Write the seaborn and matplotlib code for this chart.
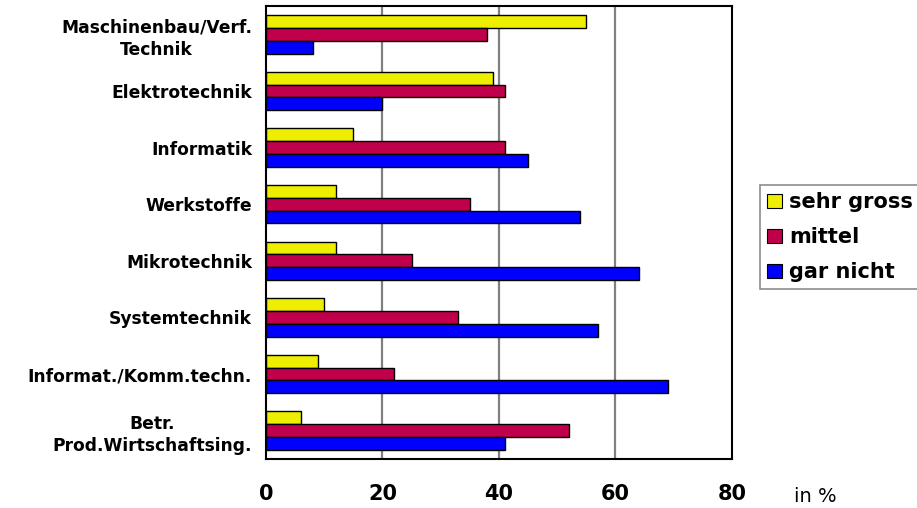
import matplotlib
matplotlib.use("Agg")
import matplotlib.pyplot as plt
from matplotlib.patches import Patch
import seaborn as sns
import pandas as pd

# Fachrichtungen (top to bottom)
categories = [
    "Maschinenbau/Verf.\nTechnik",
    "Elektrotechnik",
    "Informatik",
    "Werkstoffe",
    "Mikrotechnik",
    "Systemtechnik",
    "Informat./Komm.techn.",
    "Betr.\nProd.Wirtschaftsing.",
]
series_names = ["sehr gross", "mittel", "gar nicht"]
sehr_gross = [55, 39, 15, 12, 12, 10, 9, 6]
mittel = [38, 41, 41, 35, 25, 33, 22, 52]
gar_nicht = [8, 20, 45, 54, 64, 57, 69, 41]
x_ticks = [0, 20, 40, 60, 80]

colors = ["#EEEE00", "#C0004A", "#0000FF"]

df = pd.DataFrame({
    "Fach": categories * 3,
    "Antwort": [s for s in series_names for _ in categories],
    "Wert": sehr_gross + mittel + gar_nicht,
})

sns.set_theme(style="white")
plt.rcParams["font.family"] = ["DejaVu Sans"]
plt.rcParams["text.color"] = "black"
plt.rcParams["xtick.color"] = "black"
plt.rcParams["ytick.color"] = "black"

fig = plt.figure(figsize=(9.17, 5.08), dpi=100)
ax = fig.add_axes([0.290, 0.0965, 0.508, 0.8915])

sns.barplot(
    data=df, y="Fach", x="Wert", hue="Antwort",
    order=categories, hue_order=series_names,
    palette=colors, orient="h", width=0.68,
    edgecolor="black", linewidth=1.0, saturation=1,
    legend=False, ax=ax,
)

ax.set_xlim(0, 80)
ax.set_ylim(len(categories) - 0.5, -0.5)
ax.set_xticks(x_ticks)
ax.set_xticklabels([str(t) for t in x_ticks], fontsize=15, fontweight="bold")
ax.tick_params(axis="x", length=7, width=1.2, color="black", direction="out", pad=11)

# y ticks sit between the groups; labels at group centres
ax.set_yticks([i - 0.5 for i in range(len(categories) + 1)])
ax.set_yticklabels([])
ax.set_yticks(range(len(categories)), minor=True)
ax.set_yticklabels(categories, minor=True, fontsize=12.3, fontweight="bold",
                   linespacing=1.3, multialignment="center")
ax.tick_params(axis="y", which="major", length=6, width=1.2, color="black", direction="out")
ax.tick_params(axis="y", which="minor", length=0, pad=10)

ax.set_xlabel("")
ax.set_ylabel("")
ax.grid(False)
for x in x_ticks[1:-1]:
    ax.axvline(x, color="#808080", linewidth=1.6, zorder=0)

for side in ["left", "right", "top", "bottom"]:
    ax.spines[side].set_visible(True)
    ax.spines[side].set_color("black")
    ax.spines[side].set_linewidth(1.5)

fig.text(0.866, 0.012, "in %", fontsize=14, ha="left", va="baseline")

handles = [Patch(facecolor=c, edgecolor="black", linewidth=0.8) for c in colors]
leg = fig.legend(
    handles, series_names, loc="upper left", bbox_to_anchor=(0.829, 0.636),
    frameon=True, fancybox=False, edgecolor="#707070",
    prop={"size": 15, "weight": "bold"},
    handlelength=0.7, handleheight=0.7, handletextpad=0.35,
    labelspacing=0.72, borderpad=0.35, borderaxespad=0,
)
leg.get_frame().set_linewidth(1.2)

fig.savefig("out.png", dpi=100)
